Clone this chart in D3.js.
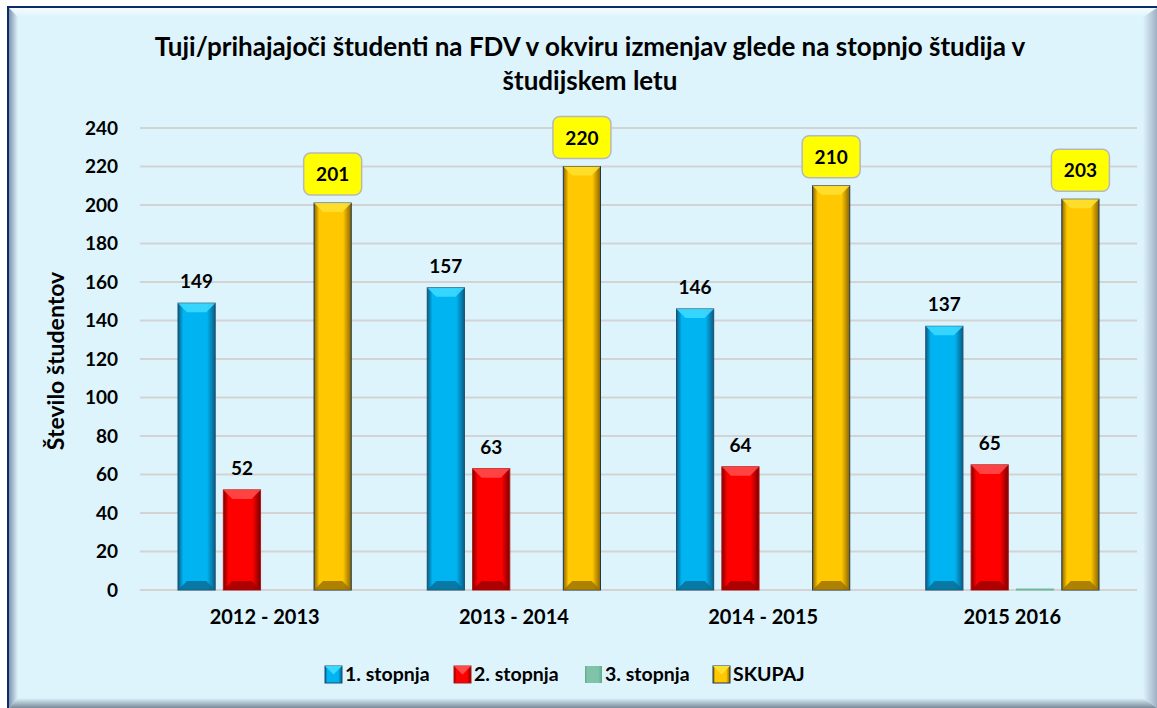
<!DOCTYPE html>
<html>
<head>
<meta charset="utf-8">
<script src="https://cdn.jsdelivr.net/npm/d3@7"></script>
<style>
  body { margin: 0; background: #fff; }
  text { font-family: Lato, "Open Sans", sans-serif; font-weight: bold; fill: #000; }
</style>
</head>
<body>
<div id="graph"></div>
<script>
const years = ["2012 - 2013", "2013 - 2014", "2014 - 2015", "2015 2016"];
const series = ["1. stopnja", "2. stopnja", "3. stopnja", "SKUPAJ"];
const stopnja1 = [149, 157, 146, 137];
const stopnja2 = [52, 63, 64, 65];
const stopnja3 = [0, 0, 0, 0.5];
const skupaj = [201, 220, 210, 203];
const yTicks = [0, 20, 40, 60, 80, 100, 120, 140, 160, 180, 200, 220, 240];

const W = 1157, H = 708;
const plot = { left: 140, right: 1137, top: 128, bottom: 590 };

// colours per series: edge, centre, top highlight, bottom shade, outline
const pal = {
  "1. stopnja": { dark: "#0a5d86", mid: "#00b4f2", hi: "#3ad8ff", lo: "#0a6a90", line: "#1b4f70" },
  "2. stopnja": { dark: "#7a0000", mid: "#ff0000", hi: "#ff4a4a", lo: "#9a0000", line: "#b01818" },
  "3. stopnja": { dark: "#5faa8c", mid: "#7fc4a8", hi: "#9fd8c0", lo: "#5f9f88", line: "#6fb89a" },
  "SKUPAJ":     { dark: "#8a6400", mid: "#ffc800", hi: "#ffe030", lo: "#9a7000", line: "#1f3850" }
};

const rows = series.map((s, i) => ({
  key: s,
  values: [stopnja1, stopnja2, stopnja3, skupaj][i].map((v, j) => ({ year: years[j], value: v, key: s }))
}));

const svg = d3.select("#graph").append("svg")
  .attr("width", W)
  .attr("height", H);

const defs = svg.append("defs");

function linGrad(id, x1, y1, x2, y2, stops) {
  const g = defs.append("linearGradient").attr("id", id)
    .attr("x1", x1).attr("y1", y1).attr("x2", x2).attr("y2", y2);
  stops.forEach(s => g.append("stop").attr("offset", s[0]).attr("stop-color", s[1]));
}

// frame / bevel
const bg = "#ddf4fd";
svg.append("rect").attr("x", 0).attr("y", 0).attr("width", W).attr("height", H).attr("fill", "#fff");
svg.append("rect").attr("x", 7).attr("y", 6).attr("width", W - 7).attr("height", H - 6).attr("fill", "#0d2a6b");
svg.append("rect").attr("x", 9).attr("y", 8).attr("width", W - 9).attr("height", H - 8).attr("fill", bg);

linGrad("gLeft", "0%", "0%", "100%", "0%", [["0%", "#7f93ad"], ["100%", bg]]);
linGrad("gTop", "0%", "0%", "0%", "100%", [["0%", "#f4fcff"], ["100%", bg]]);
linGrad("gRight", "0%", "0%", "100%", "0%", [["0%", bg], ["100%", "#9fb0c2"]]);
linGrad("gBottom", "0%", "0%", "0%", "100%", [["0%", bg], ["100%", "#7a8a99"]]);

svg.append("polygon").attr("points", "9,8 1157,8 1143,17 18,17").attr("fill", "url(#gTop)");
svg.append("polygon").attr("points", "9,8 18,17 18,698 9,708").attr("fill", "url(#gLeft)");
svg.append("polygon").attr("points", "1143,17 1157,8 1157,708 1143,698").attr("fill", "url(#gRight)");
svg.append("polygon").attr("points", "9,708 18,698 1143,698 1157,708").attr("fill", "url(#gBottom)");

// title
svg.append("text").attr("x", 590).attr("y", 56).attr("text-anchor", "middle")
  .style("font-size", "26px").text("Tuji/prihajajoči študenti na FDV v okviru izmenjav glede na stopnjo študija v");
svg.append("text").attr("x", 590).attr("y", 90).attr("text-anchor", "middle")
  .style("font-size", "26px").text("študijskem letu");

// scales
const x0 = d3.scaleBand().domain(years).range([plot.left, plot.right]);
const x1 = d3.scaleBand().domain(series).range([38, x0.bandwidth() - 38]).paddingInner(0.18);
const y = d3.scaleLinear().domain([0, 240]).range([plot.bottom, plot.top]);

// gridlines
svg.append("g").selectAll("line")
  .data(yTicks)
  .enter().append("line")
  .attr("x1", plot.left).attr("x2", plot.right)
  .attr("y1", d => y(d)).attr("y2", d => y(d))
  .attr("stroke", "#d3d3d3").attr("stroke-width", 2);

// y axis
const yAxis = svg.append("g")
  .attr("transform", "translate(" + plot.left + ",0)")
  .call(d3.axisLeft(y).tickValues(yTicks).tickSize(0).tickPadding(22));
yAxis.select(".domain").remove();
yAxis.selectAll("text").style("font-size", "19px").style("font-family", "Lato, sans-serif").attr("fill", "#000");

svg.append("text")
  .attr("transform", "translate(64,361) rotate(-90)")
  .attr("text-anchor", "middle")
  .style("font-size", "23px")
  .text("Število študentov");

// x axis
const xAxis = svg.append("g")
  .attr("transform", "translate(0," + plot.bottom + ")")
  .call(d3.axisBottom(x0).tickSize(0).tickPadding(20));
xAxis.select(".domain").remove();
xAxis.selectAll("text").style("font-size", "20px").style("font-family", "Lato, sans-serif").attr("fill", "#000");

// bar gradients
series.forEach((s, i) => {
  const p = pal[s];
  linGrad("bar" + i, "0%", "0%", "100%", "0%",
    [["0%", p.dark], ["14%", p.mid], ["78%", p.mid], ["100%", p.dark]]);
});

const bev = 9;
const groups = svg.append("g").selectAll("g")
  .data(rows)
  .enter().append("g");

groups.each(function (r, i) {
  const p = pal[r.key];
  const g = d3.select(this);
  const bars = g.selectAll("g")
    .data(r.values.filter(d => d.value > 0))
    .enter().append("g");

  bars.append("rect")
    .attr("x", d => x0(d.year) + x1(d.key))
    .attr("y", d => y(d.value))
    .attr("width", x1.bandwidth())
    .attr("height", d => y(0) - y(d.value))
    .attr("fill", "url(#bar" + i + ")")
    .attr("stroke", p.line)
    .attr("stroke-width", 1);

  // top and bottom bevels
  bars.filter(d => y(0) - y(d.value) > 2 * bev).append("polygon")
    .attr("points", d => {
      const xl = x0(d.year) + x1(d.key), xr = xl + x1.bandwidth(), yt = y(d.value);
      return [[xl, yt], [xr, yt], [xr - bev, yt + bev], [xl + bev, yt + bev]].join(" ");
    })
    .attr("fill", p.hi).attr("opacity", 0.9);

  bars.filter(d => y(0) - y(d.value) > 2 * bev).append("polygon")
    .attr("points", d => {
      const xl = x0(d.year) + x1(d.key), xr = xl + x1.bandwidth(), yb = y(0);
      return [[xl, yb], [xr, yb], [xr - bev, yb - bev], [xl + bev, yb - bev]].join(" ");
    })
    .attr("fill", p.lo).attr("opacity", 0.8);
});

// value labels for 1. and 2. stopnja
[rows[0], rows[1]].forEach(r => {
  svg.append("g").selectAll("text")
    .data(r.values)
    .enter().append("text")
    .attr("x", d => x0(d.year) + x1(d.key) + x1.bandwidth() / 2)
    .attr("y", d => y(d.value) - 15)
    .attr("text-anchor", "middle")
    .style("font-size", "19px")
    .text(d => d.value);
});

// SKUPAJ labels in yellow boxes
const tot = svg.append("g").selectAll("g")
  .data(rows[3].values)
  .enter().append("g")
  .attr("transform", d => "translate(" + (x0(d.year) + x1(d.key) + x1.bandwidth() / 2) + "," + (y(d.value) - 8) + ")");
tot.append("rect")
  .attr("x", -29).attr("y", -42).attr("width", 58).attr("height", 42)
  .attr("rx", 7)
  .attr("fill", "#ffff00").attr("stroke", "#b8b8b8").attr("stroke-width", 1.5);
tot.append("text")
  .attr("x", 0).attr("y", -14)
  .attr("text-anchor", "middle")
  .style("font-size", "19px")
  .text(d => d.value);

// legend
const legendX = [325, 454, 585, 713];
const leg = svg.append("g").selectAll("g")
  .data(series)
  .enter().append("g")
  .attr("transform", (d, i) => "translate(" + legendX[i] + ",666)");
leg.append("rect")
  .attr("width", 17).attr("height", 17)
  .attr("fill", (d, i) => "url(#bar" + i + ")")
  .attr("stroke", d => d === "3. stopnja" ? "none" : pal[d].line);
leg.filter(d => d !== "3. stopnja").append("polygon")
  .attr("points", "0,0 17,0 8.5,8.5")
  .attr("fill", d => pal[d].hi);
leg.append("text")
  .attr("x", 20).attr("y", 15)
  .style("font-size", "19.5px")
  .text(d => d);
</script>
</body>
</html>
